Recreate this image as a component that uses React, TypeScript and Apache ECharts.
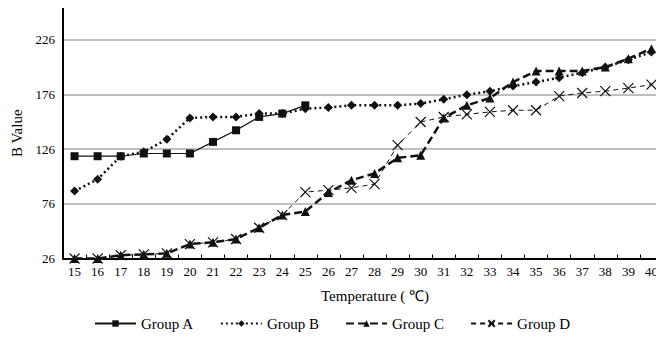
import React, { useEffect, useRef } from "react";
import * as echarts from "echarts";

const temperatures = ["15","16","17","18","19","20","21","22","23","24","25","26","27","28","29","30","31","32","33","34","35","36","37","38","39","40"];
const groupA = [119.5, 119.5, 119.5, 122, 122, 122, 132.6, 143.2, 155.4, 158.5, 166];
const groupB = [87.6, 98.5, 119.5, 123.5, 135, 154.5, 155.4, 155.4, 158.5, 158.5, 163, 164, 166, 166, 166, 167.6, 171.5, 175.8, 178.8, 183.7, 187.3, 191.3, 195.9, 201, 207.7, 214.7];
const groupC = [26, 26, 29, 29.8, 30.7, 39.2, 40.8, 43.8, 54.1, 65.7, 69, 86.4, 97.6, 103.7, 118, 120.4, 154.5, 166, 172.7, 187.3, 197.4, 197.4, 197.4, 201, 208.7, 217.8];
const groupD = [26, 26, 29, 29.8, 30.7, 39.2, 40.8, 43.8, 54.1, 65.7, 86.7, 88.5, 90.6, 94, 129.6, 150.8, 155.4, 157.8, 160, 161.5, 161.5, 174.5, 177.3, 179, 181.8, 184.9];
const seriesNames = ["Group A", "Group B", "Group C", "Group D"];
const yTicks = [26, 76, 126, 176, 226];

const FONT = "Liberation Serif";
const CROSS = "path://M0,0L10,10M10,0L0,10";

export default function App() {
  const ref = useRef<HTMLDivElement>(null);
  useEffect(() => {
    if (!ref.current) return;
    const chart = echarts.init(ref.current, null, { renderer: "svg" });
    chart.setOption({
      animation: false,
      grid: { left: 63, right: 1, top: 8, bottom: 81.5 },
      legend: {
        bottom: 4,
        left: "center",
        itemWidth: 41,
        itemHeight: 8,
        itemGap: 26,
        textStyle: { fontFamily: FONT, fontSize: 15, color: "#000" },
        data: seriesNames,
      },
      xAxis: {
        type: "category",
        data: temperatures,
        boundaryGap: true,
        name: "Temperature ( \u2103)",
        nameLocation: "middle",
        nameGap: 30,
        nameTextStyle: { fontFamily: FONT, fontSize: 15, color: "#000", padding: [0, 0, 0, 24] },
        axisLine: { lineStyle: { color: "#000", width: 2 } },
        axisTick: { show: true, inside: true, length: 4, lineStyle: { color: "#000", width: 1 } },
        axisLabel: { fontFamily: FONT, fontSize: 13, color: "#000", margin: 6, interval: 0 },
        splitLine: { show: false },
      },
      yAxis: {
        type: "value",
        min: 26,
        max: 255,
        interval: 50,
        name: "B Value",
        nameLocation: "middle",
        nameGap: 37,
        nameTextStyle: { fontFamily: FONT, fontSize: 15, color: "#000" },
        axisLine: { show: true, lineStyle: { color: "#000", width: 2 } },
        axisTick: { show: false },
        axisLabel: {
          fontFamily: FONT,
          fontSize: 13,
          color: "#000",
          margin: 8,
          showMaxLabel: false,
          formatter: (v: number) => (yTicks.includes(v) ? String(v) : ""),
        },
        splitLine: {
          show: true,
          lineStyle: { color: ["#aaa", "#aaa", "#aaa", "#aaa", "#aaa", "rgba(0,0,0,0)"], width: 1.5 },
        },
      },
      series: [
        {
          name: seriesNames[0],
          type: "line",
          data: groupA,
          symbol: "rect",
          symbolSize: 8,
          itemStyle: { color: "#111" },
          lineStyle: { color: "#111", width: 1.2, type: "solid" },
          z: 4,
        },
        {
          name: seriesNames[1],
          type: "line",
          data: groupB,
          symbol: "diamond",
          symbolSize: 9,
          itemStyle: { color: "#111" },
          lineStyle: { color: "#111", width: 2.5, type: [2, 3] },
          z: 3,
        },
        {
          name: seriesNames[2],
          type: "line",
          data: groupC,
          symbol: "triangle",
          symbolSize: 9,
          itemStyle: { color: "#111" },
          lineStyle: { color: "#111", width: 2.5, type: [8, 4] },
          z: 2,
        },
        {
          name: seriesNames[3],
          type: "line",
          data: groupD,
          symbol: CROSS,
          symbolSize: 10,
          itemStyle: { color: "#111", borderColor: "#111", borderWidth: 1.2 },
          lineStyle: { color: "#111", width: 1, type: [5, 4] },
          z: 1,
        },
      ],
    });
    return () => chart.dispose();
  }, []);
  return <div ref={ref} style={{ width: 664, height: 340, margin: -8 }} />;
}
